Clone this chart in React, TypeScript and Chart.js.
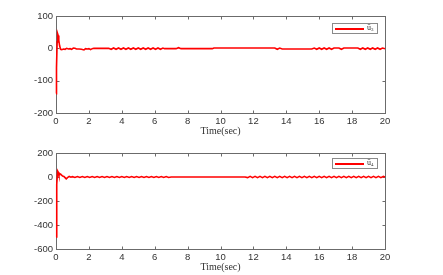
import React, { useEffect, useRef } from "react";
import { Chart, registerables } from "chart.js";

Chart.register(...registerables);

// u3 (top panel)
const T3 = [0, 0.03, 0.07, 0.1, 0.13, 0.17, 0.22, 0.28, 0.35, 0.45, 0.55, 0.65, 0.75, 0.85, 0.95, 1.05, 1.15, 1.25, 1.4, 1.55, 1.7, 1.8, 1.9, 2.0, 2.1, 2.2, 2.3, 3.2, 3.35, 3.5, 3.65, 3.8, 3.95, 4.1, 4.25, 4.4, 4.55, 4.7, 4.85, 5.0, 5.15, 5.3, 5.45, 5.6, 5.75, 5.9, 6.05, 6.2, 6.35, 6.5, 6.6, 7.3, 7.45, 7.6, 7.75, 9.5, 9.6, 13.3, 13.45, 13.6, 13.75, 13.85, 15.55, 15.7, 15.85, 16.0, 16.15, 16.3, 16.45, 16.6, 16.75, 16.9, 17.05, 17.2, 17.35, 17.5, 17.6, 18.35, 18.5, 18.65, 18.8, 18.95, 19.1, 19.25, 19.4, 19.55, 19.7, 19.85, 20];
const U3 = [-140, -60, 20, 45, 40, 25, 8, -3, -4, -2, -3, 0, -2, -1, -3, 1, 0, -2, -2, -3, -5, -1, -2, -1, -4, -1, 0, 0, -3, 1, -3, 1, -3, 1, -3, 1, -3, 1, -3, 1, -3, 1, -3, 1, -3, 1, -3, 1, -3, 1, -1, -1, 2, -1, -1, -1, 1, 1, -3, 1, -2, -2, -2, 1, -3, 1, -3, 1, -3, 1, -3, 1, 1, 1, -3, 1, 1, 1, -3, 1, -3, 1, -3, 1, -3, 1, -3, 1, -1];

// u4 (bottom panel)
const T4 = [0, 0.03, 0.06, 0.1, 0.14, 0.18, 0.22, 0.28, 0.34, 0.4, 0.48, 0.55, 0.62, 0.7, 0.8, 0.9, 1.0,
  1.15, 1.3, 1.45, 1.6, 1.75, 1.9, 2.05, 2.2, 2.35, 2.5, 2.65, 2.8, 2.95, 3.1, 3.25, 3.4, 3.55, 3.7, 3.85, 4.0,
  4.15, 4.3, 4.45, 4.6, 4.75, 4.9, 5.05, 5.2, 5.35, 5.5, 5.65, 5.8, 5.95, 6.1, 6.25, 6.4, 6.55, 6.7, 6.85, 7.0,
  11.5, 11.65, 11.8, 11.95, 12.1, 12.25, 12.4, 12.55, 12.7, 12.85, 13.0, 13.15, 13.3, 13.45, 13.6, 13.75, 13.9,
  14.05, 14.2, 14.35, 14.5, 14.65, 14.8, 14.95, 15.1, 15.25, 15.4, 15.55, 15.7, 15.85, 16.0, 16.15, 16.3, 16.45,
  16.6, 16.75, 16.9, 17.05, 17.2, 17.35, 17.5, 17.65, 17.8, 17.95, 18.1, 18.25, 18.4, 18.55, 18.7, 18.85, 19.0,
  19.15, 19.3, 19.45, 19.6, 19.75, 19.9, 20];
const U4 = [-500, -300, -60, 50, 40, 15, 20, 25, 15, 8, 5, -5, -15, -5, 5, -2, 3,
  -4, 4, -4, 4, -4, 4, -4, 4, -4, 4, -4, 4, -4, 4, -4, 4, -4, 4, -4, 4,
  -4, 4, -4, 4, -4, 4, -4, 4, -4, 4, -4, 4, -4, 4, -4, 4, -4, 4, -4, 0,
  0, -5, 5, -5, 5, -5, 5, -5, 5, -5, 5, -5, 5, -5, 5, -5, 5,
  -5, 5, -5, 5, -5, 5, -5, 5, -5, 5, -5, 5, -5, 5, -5, 5, -5,
  5, -5, 5, -5, 5, -5, 5, -5, 5, -5, 5, -5, 5, -5, 5, -5, 5,
  -5, 5, -5, 5, -5, 5, 0];

const X_TICKS_MAX = 20;
const X_STEP = 2;

const boxPlugin = {
  id: "matlabBox",
  beforeDatasetsDraw(chart: any) {
    const { ctx, chartArea: a, scales } = chart;
    ctx.save();
    ctx.strokeStyle = "#6b6b6b";
    ctx.lineWidth = 1;
    const L = Math.round(a.left) + 0.5, R = Math.round(a.right) + 0.5;
    const T = Math.round(a.top) + 0.5, B = Math.round(a.bottom) + 0.5;
    ctx.strokeRect(L, T, R - L, B - T);
    ctx.beginPath();
    const tl = 3;
    scales.x.ticks.forEach((t: any) => {
      const px = Math.round(scales.x.getPixelForValue(t.value)) + 0.5;
      ctx.moveTo(px, B); ctx.lineTo(px, B - tl);
      ctx.moveTo(px, T); ctx.lineTo(px, T + tl);
    });
    scales.y.ticks.forEach((t: any) => {
      const py = Math.round(scales.y.getPixelForValue(t.value)) + 0.5;
      ctx.moveTo(L, py); ctx.lineTo(L + tl, py);
      ctx.moveTo(R, py); ctx.lineTo(R - tl, py);
    });
    ctx.stroke();
    ctx.restore();
  },
};

function Panel(props: { t: number[]; u: number[]; ymin: number; ymax: number; ystep: number; h: number; axisH: number; titlePad: number }) {
  const ref = useRef<HTMLCanvasElement>(null);
  useEffect(() => {
    const data = props.t.map((x, i) => ({ x, y: props.u[i] }));
    const chart = new Chart(ref.current!, {
      type: "line",
      data: {
        datasets: [
          {
            data,
            borderColor: "#ff0000",
            borderWidth: 1.6,
            pointRadius: 0,
            tension: 0,
            fill: false,
            clip: 3,
          },
        ],
      },
      options: {
        animation: false,
        responsive: false,
        maintainAspectRatio: false,
        events: [],
        layout: { padding: { top: 16, right: 58, left: 0, bottom: 0 } },
        plugins: { legend: { display: false }, tooltip: { enabled: false } },
        scales: {
          x: {
            type: "linear",
            min: 0,
            max: X_TICKS_MAX,
            ticks: { stepSize: X_STEP, color: "#333", font: { family: "Liberation Sans", size: 9.5 }, padding: 3, maxRotation: 0 },
            grid: { display: false, drawTicks: false },
            border: { display: false },
            title: { display: true, text: "Time(sec)", color: "#333", font: { family: "Liberation Serif", size: 10 }, padding: { top: 0, bottom: props.titlePad } },
            afterFit: (s: any) => { s.height = props.axisH; },
          },
          y: {
            min: props.ymin,
            max: props.ymax,
            ticks: { stepSize: props.ystep, color: "#333", font: { family: "Liberation Sans", size: 9.5 }, padding: 3 },
            grid: { display: false, drawTicks: false },
            border: { display: false },
            afterFit: (s: any) => { s.width = 56; },
          },
        },
      },
      plugins: [boxPlugin],
    } as any);
    return () => chart.destroy();
  }, []);
  return <canvas ref={ref} width={443} height={props.h} style={{ display: "block", width: 443, height: props.h }} />;
}

function Legend(props: { left: number; top: number; sub: string }) {
  return (
    <div
      style={{
        position: "absolute",
        left: props.left,
        top: props.top,
        width: 46,
        height: 11,
        border: "1px solid #8a8a8a",
        background: "#fff",
        boxSizing: "border-box",
      }}
    >
      <div style={{ position: "absolute", left: 2, top: 4, width: 29, height: 2, background: "#ff0000" }} />
      <div
        style={{
          position: "absolute",
          left: 34,
          top: -1,
          fontFamily: "Liberation Serif",
          fontSize: 8,
          color: "#333",
          lineHeight: "10px",
          whiteSpace: "nowrap",
        }}
      >
        u&#772;<sub style={{ fontSize: 5, verticalAlign: "-1px" }}>{props.sub}</sub>
      </div>
    </div>
  );
}

export default function App() {
  return (
    <div style={{ position: "absolute", left: 0, top: 0, width: 443, height: 275, background: "#fff", overflow: "hidden" }}>
      <div style={{ position: "absolute", left: 0, top: 0 }}>
        <Panel t={T3} u={U3} ymin={-200} ymax={100} ystep={100} h={137} axisH={24} titlePad={0} />
      </div>
      <div style={{ position: "absolute", left: 0, top: 137 }}>
        <Panel t={T4} u={U4} ymin={-600} ymax={200} ystep={200} h={138} axisH={26} titlePad={2} />
      </div>
      <Legend left={332} top={23} sub="3" />
      <Legend left={332} top={158} sub="4" />
    </div>
  );
}
